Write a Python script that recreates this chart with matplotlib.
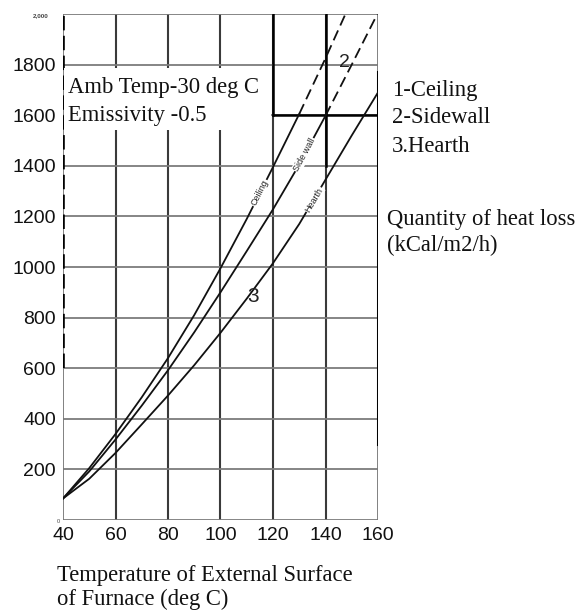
import matplotlib
matplotlib.use('Agg')
import matplotlib.pyplot as plt
from matplotlib.patches import Rectangle
import numpy as np

# surface temperature of furnace (deg C)
temp = [40, 50, 60, 70, 80, 90, 100, 110, 120, 130, 140, 150, 160]
# heat loss (kCal/m2/h)
ceiling = [85, 205, 340, 485, 640, 810, 995, 1190, 1395, 1605, 1825, 2055]
sidewall = [85, 192, 318, 452, 592, 742, 900, 1063, 1228, 1405, 1598, 1800, 2005]
hearth = [85, 163, 265, 378, 492, 612, 740, 875, 1015, 1170, 1345, 1520, 1690]

xticks = [40, 60, 80, 100, 120, 140, 160]
yticks = [200, 400, 600, 800, 1000, 1200, 1400, 1600, 1800]

# worked example drawn on the chart: 140 deg C -> 1600 kCal/m2/h
ref_temp = 140
ref_loss = 1600

W, H = 582, 613
serif = 'Liberation Serif'
sans = 'Liberation Sans'
fs = 16.3


def fxy(px, py):
    return px / W, 1 - py / H


fig = plt.figure(figsize=(W / 100, H / 100), dpi=100)
ax = fig.add_axes([63 / W, 93 / H, 315 / W, 506 / H])
ax.set_xlim(40, 160)
ax.set_ylim(0, 2000)
for s in ax.spines.values():
    s.set_visible(False)

ax.set_xticks(xticks)
ax.set_yticks(yticks)
ax.tick_params(length=0, labelsize=14, pad=5)
for lab in ax.get_xticklabels() + ax.get_yticklabels():
    lab.set_fontfamily(sans)
    lab.set_color('#111111')

# grid
for x in xticks[1:-1]:
    ax.axvline(x, color='#3a3a3a', lw=1.5, zorder=1)
for y in [0] + yticks + [2000]:
    ax.axhline(y, color='#7c7c7c', lw=1.3, zorder=1)
ax.axvline(40, color='#777777', lw=1.3, zorder=1)
ax.axvline(160, color='#777777', lw=1.3, zorder=1)

# heavy frame pieces as in the scan
ax.plot([40, 40], [600, 2000], color='black', lw=2.6, ls=(0, (4, 1.5)), zorder=2)
ax.plot([160, 160], [300, 1770], color='black', lw=2.2, zorder=2)
ax.plot([ref_temp - 20, ref_temp - 20], [ref_loss, 2000], color='black', lw=1.8, zorder=2)
ax.plot([ref_temp - 20, 160], [ref_loss, ref_loss], color='black', lw=1.8, zorder=2)
ax.plot([ref_temp, ref_temp], [ref_loss - 200, 2000], color='black', lw=1.8, zorder=2)

# blank patch behind the conditions note
ax.add_patch(Rectangle((40.5, 1540), 78.8, 245, facecolor='white', edgecolor='none', zorder=2))

# curves: solid lower part, broken upper part
t = np.array(temp, dtype=float)
for vals, cut in [(ceiling, 130), (sidewall, 140), (hearth, 170)]:
    v = np.array(vals, dtype=float)
    tt = t[:len(v)]
    lo = tt <= cut
    hi = tt >= cut
    ax.plot(tt[lo], v[lo], color='#111111', lw=1.3, zorder=3)
    if hi.any():
        ax.plot(tt[hi], v[hi], color='#111111', lw=1.3, ls=(0, (6, 3)), zorder=3)

# inline curve names
fig.canvas.draw()
for vals, name, xl in [(ceiling, 'Ceiling', 115), (sidewall, 'Side wall', 132), (hearth, 'Hearth', 135.5)]:
    v = np.array(vals, dtype=float)
    tt = t[:len(v)]
    yl = np.interp(xl, tt, v)
    p = ax.transData.transform([(xl - 3, np.interp(xl - 3, tt, v)), (xl + 3, np.interp(xl + 3, tt, v))])
    ang = np.degrees(np.arctan2(p[1, 1] - p[0, 1], p[1, 0] - p[0, 0]))
    ax.text(xl, yl, name, rotation=ang, rotation_mode='anchor', ha='center', va='center',
            fontsize=6.5, family=sans, color='#222222', zorder=4,
            bbox=dict(facecolor='white', edgecolor='none', pad=0.6))

# curve numbers
fig.text(*fxy(339, 67), '2', fontsize=14, family=sans, color='#222222')
fig.text(*fxy(247, 302), '3', fontsize=15, family=sans, color='#222222')

# tiny scan labels at the axis ends
fig.text(*fxy(33, 17), '2,000', fontsize=4.5, family=sans, weight='bold', color='#444444')
fig.text(*fxy(57, 523), '0', fontsize=4, family=sans, color='#444444')

# notes
fig.text(*fxy(68, 93), 'Amb Temp-30 deg C', fontsize=fs, family=serif, color='#111111')
fig.text(*fxy(68, 121), 'Emissivity -0.5', fontsize=fs, family=serif, color='#111111')

fig.text(*fxy(392, 96), '1-Ceiling', fontsize=fs, family=serif, color='#111111')
fig.text(*fxy(392, 123), '2-Sidewall', fontsize=fs, family=serif, color='#111111')
fig.text(*fxy(392, 152), '3.Hearth', fontsize=fs, family=serif, color='#111111')

fig.text(*fxy(387, 225), 'Quantity of heat loss', fontsize=fs, family=serif, color='#111111')
fig.text(*fxy(387, 251), '(kCal/m2/h)', fontsize=fs, family=serif, color='#111111')

fig.text(*fxy(57, 581), 'Temperature of External Surface', fontsize=fs, family=serif, color='#111111')
fig.text(*fxy(57, 605), 'of Furnace (deg C)', fontsize=fs, family=serif, color='#111111')

fig.savefig('out.png', dpi=100)
